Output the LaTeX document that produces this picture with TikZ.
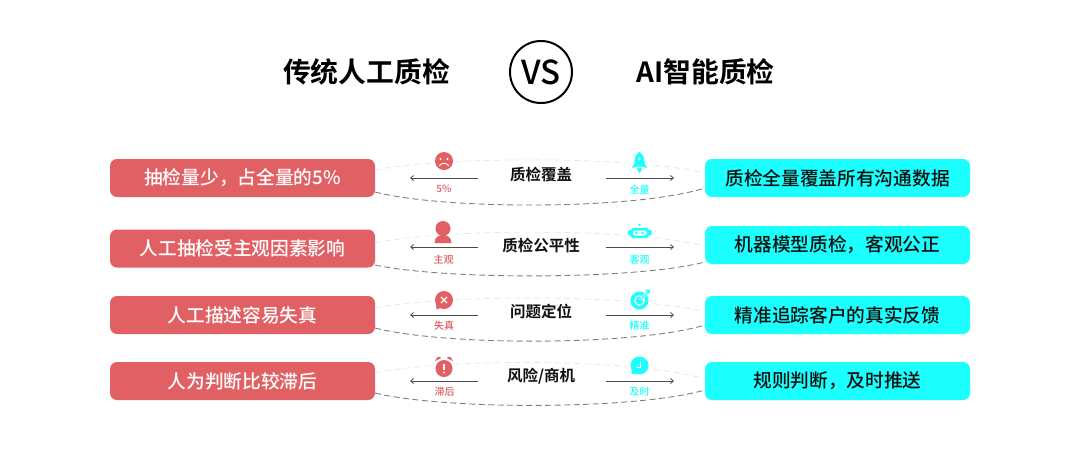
\documentclass[tikz,border=0pt]{standalone}
\usepackage{fontspec}
\setmainfont{Noto Sans CJK SC}[BoldFont={* Bold}]
\newfontfamily\medf{Noto Sans CJK SC Medium}
\usetikzlibrary{arrows.meta}
\definecolor{rd}{HTML}{E06064}
\definecolor{cy}{HTML}{1CFFFF}
\definecolor{ink}{HTML}{111111}
\newcommand{\fs}[1]{\fontsize{#1}{#1}\selectfont}
\tikzset{
  box/.style={rounded corners=7pt,minimum width=265pt,minimum height=38pt,inner sep=0pt,font=\medf\fs{18.7}},
  lbox/.style={box,fill=rd,text=white},
  rbox/.style={box,fill=cy,text=ink},
  title/.style={font=\fs{27.8}\bfseries,text=black,inner sep=0pt},
  mid/.style={font=\fs{15.5}\bfseries,text=ink,inner sep=0pt},
  small/.style={font=\medf\fs{10},inner sep=0pt},
  arr/.style={draw=black!70,line width=.8pt,-{Straight Barb[length=3pt,width=5pt]}},
  toparc/.style={draw=black!10,line width=.7pt,dash pattern=on 6pt off 4pt},
  botarc/.style={draw=black!50,line width=.9pt,dash pattern=on 6pt off 3.5pt},
  halo/.style={fill=white,draw=none},
}
\begin{document}
\begin{tikzpicture}[x=1pt,y=-1pt]
\useasboundingbox[fill=white] (0,0) rectangle (1080,464);
% titles
\node[title] (t1) at (366.5,72) {传统人工质检};
\node[title] (t2) at (705.5,72) {AI智能质检};
\node[circle,draw=black,line width=2pt,minimum size=62pt,inner sep=0pt,font=\medf\fs{33}] (vs) at (541,72) {VS};
% boxes
\node[lbox] (l1) at (242.5,178) {抽检量少，占全量的5\%};
\node[lbox] (l2) at (242.5,248.5) {人工抽检受主观因素影响};
\node[lbox] (l3) at (242.5,315) {人工描述容易失真};
\node[lbox] (l4) at (242.5,381) {人为判断比较滞后};
\node[rbox] (r1) at (837.5,178) {质检全量覆盖所有沟通数据};
\node[rbox] (r2) at (837.5,245) {机器模型质检，客观公正};
\node[rbox] (r3) at (837.5,315) {精准追踪客户的真实反馈};
\node[rbox] (r4) at (837.5,381) {规则判断，及时推送};
% arcs: row, left y top, right y top, peak control, left y bot, right y bot, control
\foreach \n/\lt/\rt/\tc/\lb/\rb/\bc in {1/170/173/156/192/188/210,2/243/246/228/265/262/280,3/308/312/294/328/325/346,4/373/379/358/393/390/410}{
  \coordinate (lt\n) at (375,\lt); \coordinate (rt\n) at (705,\rt);
  \coordinate (lb\n) at (375,\lb); \coordinate (rb\n) at (705,\rb);
  \draw[toparc] (lt\n) .. controls (445,\tc) and (635,\tc) .. (rt\n);
  \draw[botarc] (lb\n) .. controls (445,\bc) and (635,\bc) .. (rb\n);
}
% centre labels
\node[mid] (m1) at (541,175) {质检覆盖};
\node[mid] (m2) at (541,246) {质检公平性};
\node[mid] (m3) at (541,312) {问题定位};
\node[mid] (m4) at (541,376.5) {风险/商机};
% arrows
\foreach \n/\y in {1/178,2/247,3/315,4/381}{
  \coordinate (al\n) at (478,\y); \coordinate (ale\n) at (410,\y);
  \coordinate (ar\n) at (606,\y); \coordinate (are\n) at (674,\y);
  \draw[arr] (al\n) -- (ale\n);
  \draw[arr] (ar\n) -- (are\n);
}
% small labels
\node[small,text=rd] (s1) at (444,188.5) {5\%};
\node[small,text=rd] (s2) at (443.5,259.5) {主观};
\node[small,text=rd] (s3) at (444,326) {失真};
\node[small,text=rd] (s4) at (444.5,392) {滞后};
\node[small,text=cy] (c1) at (639.5,190) {全量};
\node[small,text=cy] (c2) at (639.5,259.5) {客观};
\node[small,text=cy] (c3) at (639.5,326) {精准};
\node[small,text=cy] (c4) at (639.5,392) {及时};
% face
\fill[halo] (444,161) circle (12);
\fill[rd] (444,161) circle (9);
\fill[white] (440.5,159) circle (1.1) (447.5,159) circle (1.1);
\draw[white,line width=.9pt,line cap=round] (439.5,165.5) .. controls (442,162.5) and (446,162.5) .. (448.5,165.5);
% person
\fill[halo] (443,234) circle (13);
\fill[rd] (443,228.5) circle (7.5);
\fill[rd] (434.5,243) .. controls (434.5,237) and (439,235) .. (443,235) .. controls (447,235) and (451.5,237) .. (451.5,243) -- cycle;
% speech bubble with cross
\fill[halo] (444,300) circle (12.5);
\fill[rd] (444,300) circle (9);
\fill[rd] (436,302) -- (436.5,309.5) -- (443,307) -- cycle;
\draw[white,line width=1.2pt] (441,297) -- (447,303) (447,297) -- (441,303);
% alarm clock
\fill[halo] (444,367) circle (13);
\fill[rd] (444,368.5) circle (8.5);
\fill[rd] (435,361) -- (437.5,357) .. controls (440,356.5) and (441,357.5) .. (441,358) -- cycle;
\fill[rd] (453,361) -- (450.5,357) .. controls (448,356.5) and (447,357.5) .. (447,358) -- cycle;
\fill[white] (443.1,363.5) rectangle (444.9,370);
\fill[white] (444,372.5) circle (1);
% rocket
\fill[halo] (639.5,162) circle (13);
\fill[cy] (639.5,152) .. controls (643.5,155) and (645,159) .. (644.5,163) -- (647,168) -- (642.5,166.5) -- (636.5,166.5) -- (632,168) -- (634.5,163) .. controls (634,159) and (635.5,155) .. (639.5,152) -- cycle;
\fill[white] (639.5,159) circle (1.6);
\fill[cy] (639.5,173) .. controls (637,171.5) and (637,169) .. (637.5,167.5) -- (641.5,167.5) .. controls (642,169) and (642,171.5) .. (639.5,173) -- cycle;
% robot
\fill[halo] (640,232) circle (14);
\fill[cy] (639.5,225) circle (1.3);
\fill[cy,rounded corners=1.5pt] (631,228) rectangle (648.5,238);
\fill[cy,rounded corners=1pt] (628,230) rectangle (651.5,235.5);
\fill[white,rounded corners=1.5pt] (633,230.5) rectangle (646.5,235.5);
\fill[cy] (636.5,233) circle (1.4) (642.5,233) circle (1.4);
% target
\fill[halo] (640,300) circle (13);
\fill[cy] (639.5,300.5) circle (9);
\draw[white,line width=1.2pt] (639.5,300.5) circle (4.8);
\fill[cy] (639.5,300.5) circle (2);
\draw[white,line width=2.6pt] (640,300) -- (648,292);
\draw[cy,line width=1.2pt] (640,300) -- (648,292);
\fill[cy] (645,290) -- (648,292.5) -- (649.5,294.5) -- (650,291.5) -- (649,289.5) -- cycle;
% bubble with clock
\fill[halo] (640,366) circle (13);
\fill[cy] (639.5,365.5) circle (9);
\fill[cy] (632,367) -- (631.5,374.5) -- (639,372) -- cycle;
\draw[white,line width=1.2pt] (640.5,361) -- (640.5,367.5) -- (636,367.5);
\end{tikzpicture}
\end{document}
